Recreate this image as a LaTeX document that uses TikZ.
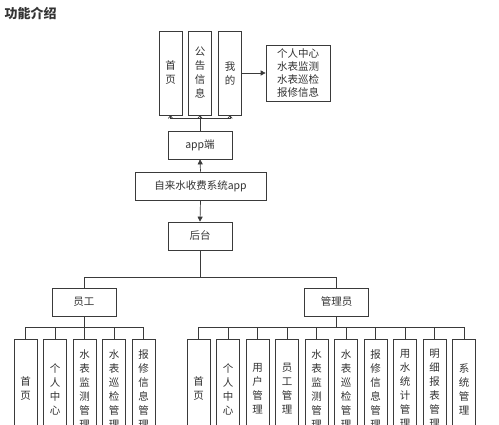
\documentclass[tikz,border=0pt]{standalone}
\usepackage{fontspec}
\setmainfont{Noto Sans CJK SC}
\usetikzlibrary{arrows.meta}
\definecolor{ln}{HTML}{3A3A3A}
\definecolor{tx}{HTML}{333333}
\begin{document}
\begin{tikzpicture}[x=1pt,y=-1pt,
  box/.style={draw=ln, line width=0.7pt, minimum width=64pt, minimum height=28pt, inner sep=0pt, text=tx, font=\fontsize{10.5}{13}\selectfont},
  vbox/.style={draw=ln, line width=0.7pt, minimum width=23pt, inner sep=0pt, align=center, text=tx, font=\fontsize{10.5}{14}\selectfont},
  conn/.style={draw=ln, line width=0.7pt},
  fat/.style={-{Triangle[length=5pt,width=5pt]}},
  thin/.style={-{Straight Barb[length=2.5pt,width=4.5pt]}}]
\useasboundingbox (0,0) rectangle (499,425);
\fill[white] (0,0) rectangle (499,425);
\clip (0,0) rectangle (499,425);
\node[anchor=west, font=\fontsize{13}{15}\selectfont\bfseries, text=tx, inner sep=0pt] (title) at (4.5,13) {功能介绍};
\node[vbox, minimum height=84pt] (t1) at (170.5,73) {首\\页};
\node[vbox, minimum height=84pt] (t2) at (200,73) {公\\告\\信\\息};
\node[vbox, minimum height=84pt] (t3) at (230,73) {我\\的};
\node[box, minimum height=56pt, align=left, font=\fontsize{10.5}{12.8}\selectfont] (info) at (298,73) {个人中心\\水表监测\\水表巡检\\报修信息};
\node[box] (app) at (200,145) {app端};
\node[box, minimum width=131pt] (sys) at (200.5,186) {自来水收费系统app};
\node[box] (ht) at (200,236) {后台};
\node[box] (yg) at (84,302) {员工};
\node[box] (gly) at (336.5,302) {管理员};
\foreach \t [count=\i from 0] in {{首\\页},{个\\人\\中\\心},{水\\表\\监\\测\\管\\理},{水\\表\\巡\\检\\管\\理},{报\\修\\信\\息\\管\\理}}
  \node[vbox, minimum height=100pt] (L\i) at (25.5+29.5*\i,389) {\t};
\foreach \t [count=\i from 0] in {{首\\页},{个\\人\\中\\心},{用\\户\\管\\理},{员\\工\\管\\理},{水\\表\\监\\测\\管\\理},{水\\表\\巡\\检\\管\\理},{报\\修\\信\\息\\管\\理},{用\\水\\统\\计\\管\\理},{明\\细\\报\\表\\管\\理},{系\\统\\管\\理}}
  \node[vbox, minimum height=100pt] (R\i) at (198.5+29.5*\i,389) {\t};
% top part
\draw[conn] (app.north) -- ++(0,-12) coordinate (tb);
\draw[conn] (t1.south |- tb) -- (t3.south |- tb);
\foreach \n in {t1,t2,t3} \draw[conn,thin] (\n.south |- tb) -- (\n.south);
\draw[conn,fat] (t3.east) -- (info.west);
\draw[conn,fat] (sys.north) -- (app.south);
\draw[conn,fat] (sys.south) -- (ht.north);
% middle
\draw[conn] (ht.south) -- ++(0,27) coordinate (mb);
\draw[conn] (yg.north |- mb) -- (gly.north |- mb);
\draw[conn] (yg.north |- mb) -- (yg.north);
\draw[conn] (gly.north |- mb) -- (gly.north);
% left leaves
\draw[conn] (yg.south) -- ++(0,11) coordinate (lb);
\draw[conn] (L0.north |- lb) -- (L4.north |- lb);
\foreach \i in {0,...,4} \draw[conn] (L\i.north |- lb) -- (L\i.north);
% right leaves
\draw[conn] (gly.south) -- ++(0,11) coordinate (rb);
\draw[conn] (R0.north |- rb) -- (R9.north |- rb);
\foreach \i in {0,...,9} \draw[conn] (R\i.north |- rb) -- (R\i.north);
\end{tikzpicture}
\end{document}
